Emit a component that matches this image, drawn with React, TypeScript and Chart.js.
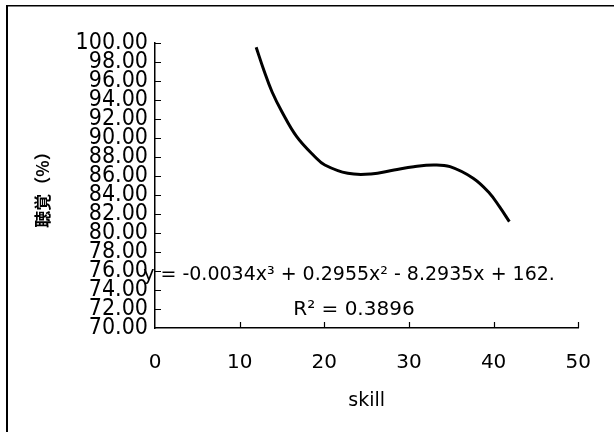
import React, { useEffect, useRef } from "react";
import { Chart, registerables } from "chart.js";

Chart.register(...registerables);

// Trend curve (skill vs 聴覚 %)
const skillValues = [11.95, 12.85, 13.82, 14.99, 16.74, 18.89, 20.06, 22.78, 25.5, 28.24, 30.57, 32.91, 34.85, 37.58, 39.52, 40.69, 41.86];
const hearingValues = [99.55, 97.16, 94.87, 92.77, 90.14, 88.03, 87.16, 86.28, 86.21, 86.63, 86.98, 87.16, 86.98, 85.76, 84.18, 82.77, 81.19];

const xTickValues = [0, 10, 20, 30, 40, 50];
const yTickValues = [70, 72, 74, 76, 78, 80, 82, 84, 86, 88, 90, 92, 94, 96, 98, 100];

const xTitle = "skill";
const yTitle = "聴覚（%）";
const equationText = "y = -0.0034x³ + 0.2955x² - 8.2935x + 162.";
const r2Text = "R² = 0.3896";

const FONT = "'DejaVu Sans', sans-serif";
const CFONT = "'DejaVu Sans Condensed', 'DejaVu Sans', sans-serif";

const decorPlugin = {
  id: "decor",
  beforeDraw(chart: any) {
    const ctx = chart.ctx;
    ctx.save();
    ctx.fillStyle = "#ffffff";
    ctx.fillRect(0, 0, chart.width, chart.height);
    ctx.strokeStyle = "#000";
    ctx.lineWidth = 2;
    ctx.beginPath();
    ctx.moveTo(7, 5);
    ctx.lineTo(7, chart.height);
    ctx.stroke();
    ctx.lineWidth = 1.5;
    ctx.beginPath();
    ctx.moveTo(6, 5.75);
    ctx.lineTo(chart.width, 5.75);
    ctx.stroke();
    ctx.restore();
  },
  afterDraw(chart: any) {
    const ctx = chart.ctx;
    const xs = chart.scales.x;
    const ys = chart.scales.y;
    ctx.save();
    ctx.strokeStyle = "#000";
    ctx.lineWidth = 1.2;
    ctx.beginPath();
    for (const v of yTickValues) {
      if (v === yTickValues[0]) continue;
      const py = Math.round(ys.getPixelForValue(v)) + 0.5;
      ctx.moveTo(xs.left, py);
      ctx.lineTo(xs.left + 6, py);
    }
    for (const v of xTickValues) {
      if (v === xTickValues[0]) continue;
      const px = Math.round(xs.getPixelForValue(v)) + 0.5;
      ctx.moveTo(px, ys.bottom);
      ctx.lineTo(px, ys.bottom - 6);
    }
    ctx.stroke();

    ctx.fillStyle = "#000";
    ctx.textBaseline = "alphabetic";
    ctx.font = `19px ${FONT}`;
    ctx.textAlign = "left";
    const eqX = xs.getPixelForValue(-1.4);
    const eqY = ys.getPixelForValue(75.05);
    ctx.fillText(equationText, eqX, eqY);
    ctx.textAlign = "center";
    ctx.font = `20px ${FONT}`;
    ctx.fillText(r2Text, xs.getPixelForValue(23.5), ys.getPixelForValue(71.4));
    ctx.restore();
  },
};

export default function App() {
  const ref = useRef<HTMLCanvasElement | null>(null);
  useEffect(() => {
    if (!ref.current) return;
    const chart = new Chart(ref.current, {
      type: "scatter",
      data: {
        datasets: [
          {
            data: skillValues.map((x, i) => ({ x, y: hearingValues[i] })),
            showLine: true,
            borderColor: "#000",
            borderWidth: 3,
            pointRadius: 0,
            tension: 0.4,
            fill: false,
          },
        ],
      },
      options: {
        animation: false,
        responsive: false,
        devicePixelRatio: 1,
        layout: { padding: { left: 0, right: 30, top: 43, bottom: 0 } },
        plugins: { legend: { display: false }, tooltip: { enabled: false } },
        scales: {
          x: {
            type: "linear",
            min: 0,
            max: 50,
            afterFit: (s: any) => { s.height = 104; },
            afterBuildTicks: (s: any) => { s.ticks = xTickValues.map((v) => ({ value: v })); },
            grid: { display: false, drawTicks: false },
            border: { display: true, color: "#000", width: 1.5 },
            ticks: { color: "#000", font: { family: FONT, size: 20 }, padding: 23, maxRotation: 0, autoSkip: false },
            title: { display: true, text: xTitle, color: "#000", font: { family: FONT, size: 19 }, padding: { top: 0, bottom: 20 } },
          },
          y: {
            type: "linear",
            min: 70,
            max: 100,
            afterFit: (s: any) => { s.width = 155; },
            afterBuildTicks: (s: any) => { s.ticks = yTickValues.map((v) => ({ value: v })); },
            grid: { display: false, drawTicks: false },
            border: { display: true, color: "#000", width: 1.5 },
            ticks: {
              color: "#000",
              font: { family: CFONT, size: 23, lineHeight: 1 },
              padding: 7,
              autoSkip: false,
              callback: (v: any) => Number(v).toFixed(2),
            },
            title: { display: true, text: yTitle, color: "#000", font: { family: "'Noto Sans CJK JP', sans-serif", size: 17, weight: "bold" }, padding: { top: 32, bottom: 0 } },
          },
        },
      },
      plugins: [decorPlugin],
    });
    return () => chart.destroy();
  }, []);
  return (
    <div style={{ position: "absolute", left: 0, top: 0, width: 614, height: 432 }}>
      <canvas ref={ref} width={614} height={432} />
    </div>
  );
}
